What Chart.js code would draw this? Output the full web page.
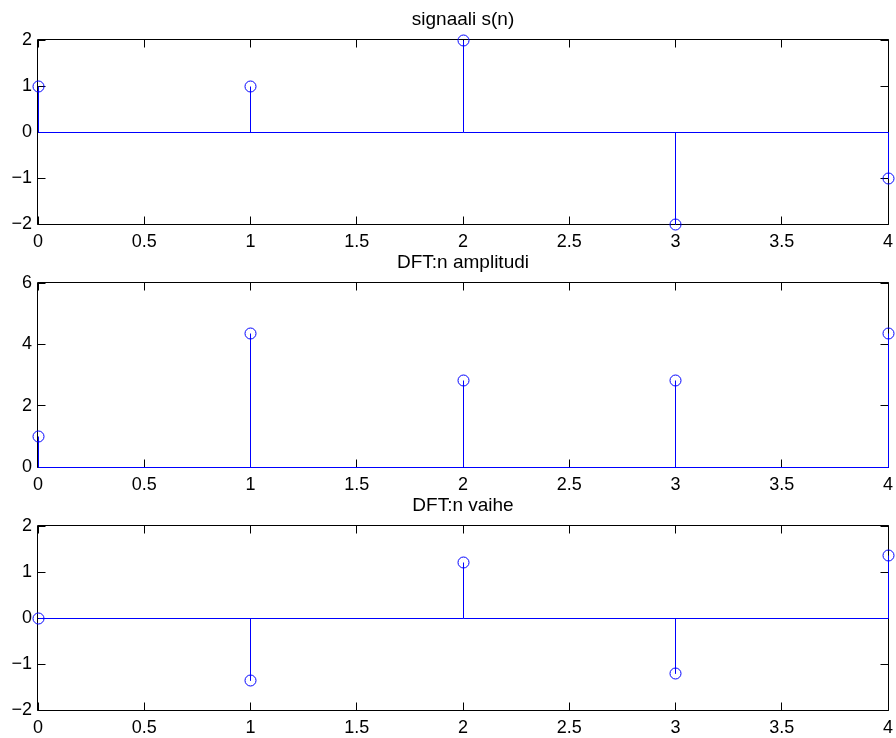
<!DOCTYPE html>
<html>
<head>
<meta charset="utf-8">
<script src="https://cdn.jsdelivr.net/npm/chart.js@4/dist/chart.umd.min.js"></script>
<style>
  body { margin: 0; background: #fff; overflow: hidden; }
  #wrap { position: relative; width: 896px; height: 738px; overflow: hidden; }
  canvas { position: absolute; left: 0; }
</style>
</head>
<body>
<div id="wrap">
  <canvas id="c1" width="896" height="253" style="top:0px"></canvas>
  <canvas id="c2" width="896" height="253" style="top:243px"></canvas>
  <canvas id="c3" width="896" height="253" style="top:486px"></canvas>
</div>
<script>
// sample index and the three sequences
const n = [0, 1, 2, 3, 4];
const signal = [1, 1, 2, -2, -1];
const amplitude = [1, 4.36, 2.83, 2.83, 4.36];
const phase = [0, -1.35, 1.2, -1.2, 1.35];

// tick values
const xTicks = [0, 0.5, 1, 1.5, 2, 2.5, 3, 3.5, 4];
const yTicksSignal = [-2, -1, 0, 1, 2];
const yTicksAmp = [0, 2, 4, 6];
const yTicksPhase = [-2, -1, 0, 1, 2];

const titles = ["signaali s(n)", "DFT:n amplitudi", "DFT:n vaihe"];

const BLUE = "#0000ff";
const FONT = { family: "'Liberation Sans', Arial, Helvetica, sans-serif", size: 18 };

// box around the axes with tick marks pointing inwards (matlab style)
const matlabBox = {
    id: "matlabBox",
    beforeDatasetsDraw(chart) {
        const { ctx, chartArea: a, scales } = chart;
        const L = Math.round(a.left) - 0.5, R = Math.round(a.right) + 0.5;
        const T = Math.round(a.top) - 0.5, B = Math.round(a.bottom) + 0.5;
        const len = 8;
        ctx.save();
        ctx.strokeStyle = "#000";
        ctx.lineWidth = 1;
        ctx.beginPath();
        ctx.rect(L, T, R - L, B - T);
        scales.x.ticks.forEach((t) => {
            const px = Math.floor(scales.x.getPixelForValue(t.value)) + 0.5;
            ctx.moveTo(px, T); ctx.lineTo(px, T + len);
            ctx.moveTo(px, B); ctx.lineTo(px, B - len);
        });
        scales.y.ticks.forEach((t) => {
            const py = Math.floor(scales.y.getPixelForValue(t.value)) + 0.5;
            ctx.moveTo(L, py); ctx.lineTo(L + len, py);
            ctx.moveTo(R, py); ctx.lineTo(R - len, py);
        });
        ctx.stroke();
        ctx.restore();

        // snap stem/marker positions to pixel centres so 1px lines stay crisp
        chart.data.datasets.forEach((ds, i) => {
            chart.getDatasetMeta(i).data.forEach((el) => {
                if (isFinite(el.x)) el.x = Math.floor(el.x) + 0.5;
                if (isFinite(el.y)) el.y = Math.floor(el.y) + 0.5;
            });
        });
    }
};

function stemChart(id, title, values, yTicks) {
    // stems: 0 -> value, with a null point to break the line between stems
    const stems = [];
    n.forEach((x, i) => {
        stems.push({ x: x, y: 0 }, { x: x, y: values[i] }, { x: x, y: null });
    });
    const baseline = [{ x: n[0], y: 0 }, { x: n[n.length - 1], y: 0 }];
    const heads = n.map((x, i) => ({ x: x, y: values[i] }));

    return new Chart(document.getElementById(id), {
        type: "scatter",
        data: {
            datasets: [
                { data: baseline, showLine: true, borderColor: BLUE, borderWidth: 1, pointRadius: 0, clip: false },
                { data: stems, showLine: true, spanGaps: false, borderColor: BLUE, borderWidth: 1, pointRadius: 0, clip: false },
                { data: heads, showLine: false, pointStyle: "circle", pointRadius: 5.5, borderColor: BLUE,
                  pointBorderWidth: 1, backgroundColor: "rgba(0,0,0,0)", clip: false }
            ]
        },
        options: {
            responsive: false,
            animation: false,
            events: [],
            layout: { padding: 0 },
            plugins: {
                legend: { display: false },
                tooltip: { enabled: false },
                title: {
                    display: true,
                    text: title,
                    color: "#000",
                    fullSize: false,
                    font: { family: FONT.family, size: 19, weight: "normal" },
                    padding: { top: 8, bottom: 9.2 }
                }
            },
            scales: {
                x: {
                    type: "linear",
                    min: xTicks[0],
                    max: xTicks[xTicks.length - 1],
                    afterBuildTicks: (s) => { s.ticks = xTicks.map((v) => ({ value: v })); },
                    afterFit: (s) => { s.height = 29; s.paddingLeft = 0; s.paddingRight = 8; },
                    grid: { display: false, drawTicks: false },
                    border: { display: false },
                    ticks: {
                        color: "#000", font: FONT, padding: 7, maxRotation: 0, autoSkip: false,
                        callback: (v) => String(v)
                    }
                },
                y: {
                    type: "linear",
                    min: yTicks[0],
                    max: yTicks[yTicks.length - 1],
                    afterBuildTicks: (s) => { s.ticks = yTicks.map((v) => ({ value: v })); },
                    afterFit: (s) => { s.width = 38; },
                    grid: { display: false, drawTicks: false },
                    border: { display: false },
                    ticks: {
                        color: "#000", font: FONT, padding: 6, autoSkip: false,
                        callback: (v) => String(v).replace("-", "\u2212")
                    }
                }
            }
        },
        plugins: [matlabBox]
    });
}

stemChart("c1", titles[0], signal, yTicksSignal);
stemChart("c2", titles[1], amplitude, yTicksAmp);
stemChart("c3", titles[2], phase, yTicksPhase);
</script>
</body>
</html>
